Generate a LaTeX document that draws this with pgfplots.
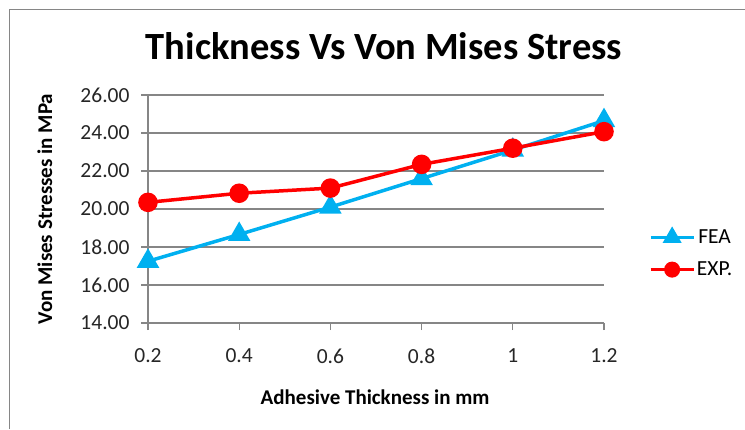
\documentclass[border=0pt]{standalone}
\usepackage{pgfplots}
\pgfplotsset{compat=1.18}
\usepackage{fontspec}
\setmainfont{Carlito}
\definecolor{feablue}{RGB}{0,176,240}
\definecolor{expred}{RGB}{255,0,0}
\definecolor{axgray}{RGB}{134,134,134}
\begin{document}
\begin{tikzpicture}[x=1pt,y=1pt]
\useasboundingbox (0,0) rectangle (745,429);
\draw[axgray, line width=1.2pt] (9.5,0) -- (9.5,419.5) -- (745,419.5);
\node[anchor=base, font=\bfseries\fontsize{38.5}{42}\selectfont] at (384,369) {Thickness Vs Von Mises Stress};
\begin{axis}[
  at={(148pt,106pt)}, anchor=south west,
  scale only axis, width=456pt, height=228pt,
  xmin=0.2, xmax=1.2, ymin=14, ymax=26,
  xtick={0.2,0.4,0.6,0.8,1,1.2}, xticklabels={0.2,0.4,0.6,0.8,1,1.2},
  ytick={14,16,18,20,22,24,26},
  yticklabels={14.00,16.00,18.00,20.00,22.00,24.00,26.00},
  axis lines=left, axis line style={-, axgray, line width=1.2pt},
  ymajorgrids, grid style={axgray, line width=1.1pt},
  tick align=outside, major tick length=7pt,
  tick style={axgray, line width=1.1pt},
  ticklabel style={font=\fontsize{21.5}{25}\selectfont, text=black!85},
  yticklabel style={xshift=-8pt},
  xticklabel style={yshift=-15pt},
  /pgf/number format/assume math mode=true,
  xlabel={Adhesive Thickness in mm},
  ylabel={Von Mises Stresses in MPa},
  label style={font=\bfseries\fontsize{21}{25}\selectfont},
  x label style={at={(axis description cs:0.498,-0.325)}, anchor=center},
  y label style={at={(axis description cs:-0.226,0.5)}, anchor=center},
  clip=false,
  legend style={at={(axis description cs:1.098,0.305)}, anchor=west, draw=none, fill=none,
    inner sep=0pt, row sep=14pt, font=\fontsize{21.5}{25}\selectfont,
    nodes={inner sep=1.5pt}},
  legend image code/.code={\draw[mark repeat=2,mark phase=2, mark options={solid, scale=0.78}] plot coordinates {(0pt,0pt)(21.5pt,0pt)(43pt,0pt)};},
]
\addplot[feablue, line width=3.5pt, mark=triangle*, mark size=9.5pt, mark options={solid}]
  coordinates {(0.2,17.25)(0.4,18.66)(0.6,20.1)(0.8,21.6)(1.0,23.1)(1.2,24.65)};
\addlegendentry{FEA}
\addplot[expred, line width=3.5pt, mark=*, mark size=8pt, mark options={solid}]
  coordinates {(0.2,20.35)(0.4,20.83)(0.6,21.1)(0.8,22.35)(1.0,23.2)(1.2,24.07)};
\addlegendentry{EXP.}
\end{axis}
\end{tikzpicture}
\end{document}
